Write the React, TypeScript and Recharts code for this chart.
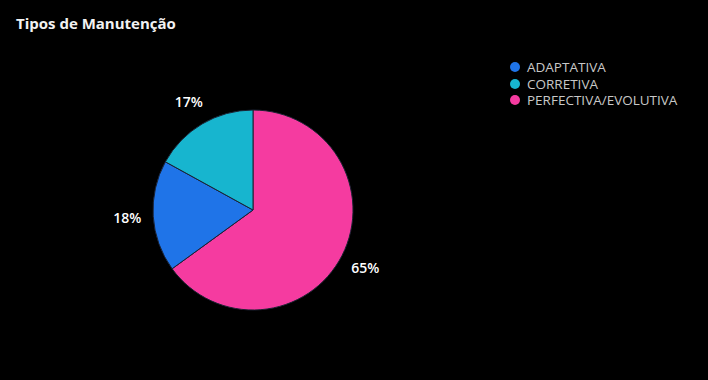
import { PieChart, Pie, Cell } from 'recharts';

const categories = ['ADAPTATIVA', 'CORRETIVA', 'PERFECTIVA/EVOLUTIVA'];
const values = [18, 17, 65];
const colors = ['#1F74E8', '#17B5CF', '#F53BA0'];
// clockwise from 12 o'clock: perfectiva, adaptativa, corretiva
const sliceOrder = [2, 0, 1];

const total = values.reduce((a, b) => a + b, 0);
const pieData = sliceOrder.map((i) => ({ name: categories[i], value: values[i], color: colors[i] }));

const FONT = '"Open Sans", Lato, sans-serif';
const RAD = Math.PI / 180;

function PctLabel(props: any) {
  const { cx, cy, midAngle, outerRadius, value } = props;
  const r = outerRadius + 26;
  const x = cx + r * Math.cos(-midAngle * RAD);
  const y = cy + r * Math.sin(-midAngle * RAD);
  return (
    <text
      x={x}
      y={y}
      fill="#ffffff"
      fontSize={14}
      fontFamily={FONT}
      fontWeight={600}
      textAnchor="middle"
      dominantBaseline="central"
    >
      {`${Math.round((value / total) * 100)}%`}
    </text>
  );
}

function LegendList() {
  return (
    <div style={{ fontFamily: FONT, fontSize: 13.5, color: '#c8c8c8' }}>
      {categories.map((c, i) => (
        <div key={c} style={{ display: 'flex', alignItems: 'center', height: 16.5 }}>
          <span
            style={{
              width: 10,
              height: 10,
              borderRadius: '50%',
              background: colors[i],
              marginRight: 7,
              display: 'inline-block',
            }}
          />
          {c}
        </div>
      ))}
    </div>
  );
}

export default function App() {
  return (
    <div style={{ position: 'fixed', top: 0, left: 0, width: 708, height: 380, background: '#000' }}>
      <div
        style={{
          position: 'absolute',
          left: 16,
          top: 13,
          color: '#f2f2f2',
          fontFamily: FONT,
          fontWeight: 700,
          fontSize: 15,
        }}
      >
        Tipos de Manutenção
      </div>
      <div style={{ position: 'absolute', left: 510, top: 59 }}>
        <LegendList />
      </div>
      <PieChart width={708} height={380} margin={{ top: 0, right: 0, bottom: 0, left: 0 }}>
        <Pie
          data={pieData}
          dataKey="value"
          nameKey="name"
          cx={253}
          cy={210}
          outerRadius={100}
          startAngle={90}
          endAngle={-270}
          stroke="#1b2233"
          strokeWidth={1}
          label={PctLabel}
          labelLine={false}
          isAnimationActive={false}
        >
          {pieData.map((d) => (
            <Cell key={d.name} fill={d.color} />
          ))}
        </Pie>
      </PieChart>
    </div>
  );
}
